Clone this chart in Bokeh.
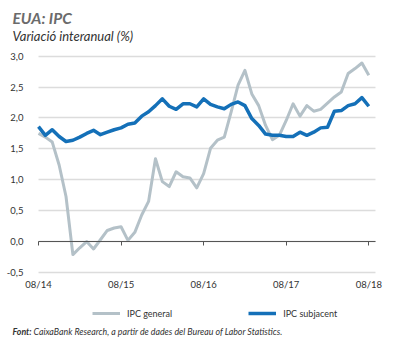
from bokeh.plotting import figure
from bokeh.models import (FixedTicker, Label, Legend, LegendItem, Range1d, LinearAxis)
from bokeh.embed import file_html
from bokeh.resources import INLINE

# ---- data ----
months = ["08/14", "09/14", "10/14", "11/14", "12/14",
          "01/15", "02/15", "03/15", "04/15", "05/15", "06/15", "07/15", "08/15", "09/15", "10/15", "11/15", "12/15",
          "01/16", "02/16", "03/16", "04/16", "05/16", "06/16", "07/16", "08/16", "09/16", "10/16", "11/16", "12/16",
          "01/17", "02/17", "03/17", "04/17", "05/17", "06/17", "07/17", "08/17", "09/17", "10/17", "11/17", "12/17",
          "01/18", "02/18", "03/18", "04/18", "05/18", "06/18", "07/18", "08/18"]
ipc_general = [1.75, 1.69, 1.61, 1.24, 0.73,
               -0.21, -0.10, 0.00, -0.12, 0.03, 0.18, 0.22, 0.24, 0.02, 0.15, 0.43, 0.65,
               1.34, 0.97, 0.89, 1.13, 1.05, 1.03, 0.87, 1.10, 1.51, 1.64, 1.69, 2.10,
               2.53, 2.77, 2.39, 2.20, 1.88, 1.65, 1.72, 1.96, 2.23, 2.03, 2.20, 2.11,
               2.14, 2.24, 2.34, 2.42, 2.72, 2.80, 2.89, 2.69]
ipc_subjacent = [1.86, 1.72, 1.81, 1.70, 1.62,
                 1.64, 1.69, 1.75, 1.80, 1.73, 1.77, 1.81, 1.84, 1.90, 1.92, 2.03, 2.10,
                 2.20, 2.31, 2.19, 2.14, 2.23, 2.23, 2.18, 2.31, 2.22, 2.18, 2.15, 2.22,
                 2.26, 2.20, 1.99, 1.88, 1.74, 1.72, 1.72, 1.70, 1.70, 1.77, 1.72, 1.77,
                 1.84, 1.85, 2.11, 2.12, 2.20, 2.23, 2.33, 2.19]
x_tick_labels = ["08/14", "08/15", "08/16", "08/17", "08/18"]
y_ticks = [-0.5, 0.0, 0.5, 1.0, 1.5, 2.0, 2.5, 3.0]
y_tick_labels = ["-0,5", "0,0", "0,5", "1,0", "1,5", "2,0", "2,5", "3,0"]
series_names = ["IPC general", "IPC subjacent"]
title_text = "EUA: IPC"
subtitle_text = "Variació interanual (%)"
source_bold = "Font:"
source_text = "CaixaBank Research, a partir de dades del Bureau of Labor Statistics."

xs = list(range(len(months)))
x_ticks = [months.index(m) for m in x_tick_labels]

FONT = "Lato"
GRAY = "#b4c1c8"
BLUE = "#1470b8"
TXT = "#333333"

# frame covers the whole canvas; ranges chosen so the plot area sits where the reference has it
p = figure(width=393, height=338, output_backend="svg", toolbar_location=None,
           title_location=None,
           x_range=Range1d(-5.52, 51.59), y_range=Range1d(-1.568, 3.901),
           min_border_left=0, min_border_right=0, min_border_top=0, min_border_bottom=0,
           x_axis_location=None, y_axis_location=None)
p.outline_line_color = None
p.background_fill_color = "white"
p.border_fill_color = "white"

# horizontal grid lines, limited to the plot area
p.xgrid.visible = False
p.ygrid.ticker = FixedTicker(ticks=y_ticks)
p.ygrid.grid_line_color = "#dcdcdc"
p.ygrid.grid_line_width = 1.3
p.ygrid.cross_bounds = (0, 49)

# y axis (labels only)
yax = LinearAxis(fixed_location=0, ticker=FixedTicker(ticks=y_ticks),
                 major_label_overrides={t: l for t, l in zip(y_ticks, y_tick_labels)},
                 axis_line_color=None, major_tick_line_color=None, minor_tick_line_color=None,
                 major_label_standoff=9, major_label_text_font=FONT,
                 major_label_text_font_size="9.5px", major_label_text_color=TXT)
p.add_layout(yax, "left")

# x axis labels at the bottom of the plot area
xax = LinearAxis(fixed_location=-0.5, ticker=FixedTicker(ticks=x_ticks),
                 major_label_overrides={t: l for t, l in zip(x_ticks, x_tick_labels)},
                 axis_line_color=None, major_tick_line_color=None, minor_tick_line_color=None,
                 major_label_standoff=1, major_label_text_font=FONT,
                 major_label_text_font_size="9.5px", major_label_text_color=TXT)
p.add_layout(xax, "below")

# zero line with yearly ticks
zax = LinearAxis(fixed_location=0, ticker=FixedTicker(ticks=x_ticks), bounds=(0, 49),
                 axis_line_color="#555555", axis_line_width=1,
                 major_tick_line_color="#555555", major_tick_out=4, major_tick_in=0,
                 minor_tick_line_color=None, major_label_text_alpha=0,
                 major_label_text_font_size="1px")
p.add_layout(zax, "below")

r1 = p.line(xs, ipc_general, line_color=GRAY, line_width=3, line_join="round")
r2 = p.line(xs, ipc_subjacent, line_color=BLUE, line_width=3.5, line_join="round")

legend = Legend(items=[LegendItem(label=series_names[0], renderers=[r1]),
                       LegendItem(label=series_names[1], renderers=[r2])],
                orientation="horizontal", location=(92, 19),
                glyph_width=28, glyph_height=12, label_standoff=7, spacing=76,
                padding=0, margin=0, border_line_color=None, background_fill_alpha=0,
                label_text_font=FONT, label_text_font_size="9px", label_text_color=TXT,
                label_height=12)
p.add_layout(legend, "center")

# titles and footer
p.add_layout(Label(x=12, y=321, x_units="screen", y_units="screen", text=title_text,
                   text_font=FONT, text_font_style="bold italic", text_font_size="15.5px",
                   text_color="#6b6b6b", text_baseline="middle"))
p.add_layout(Label(x=12, y=303, x_units="screen", y_units="screen", text=subtitle_text,
                   text_font=FONT, text_font_style="italic", text_font_size="13px",
                   text_color=TXT, text_baseline="middle"))
p.add_layout(Label(x=12, y=7, x_units="screen", y_units="screen", text=source_bold,
                   text_font=FONT, text_font_style="bold italic", text_font_size="8.8px",
                   text_color=TXT, text_baseline="middle"))
p.add_layout(Label(x=33, y=7, x_units="screen", y_units="screen", text=source_text,
                   text_font=FONT, text_font_style="italic", text_font_size="8.8px",
                   text_color=TXT, text_baseline="middle"))

open("out.html", "w").write(file_html(p, INLINE))
